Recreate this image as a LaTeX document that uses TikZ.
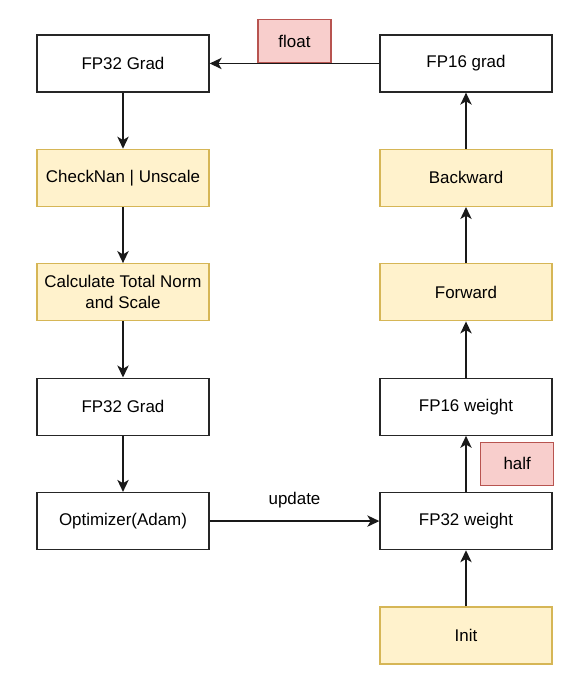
\documentclass[tikz,border=0pt]{standalone}
\usepackage{fontspec}
\setmainfont{Liberation Sans}
\usetikzlibrary{shapes.geometric, arrows.meta}
\definecolor{notefill}{HTML}{FFF2CC}
\definecolor{noteline}{HTML}{D6B656}
\definecolor{castfill}{HTML}{F8CECC}
\definecolor{castline}{HTML}{B85450}
\tikzstyle{plain} = [rectangle, minimum width=129pt, minimum height=42.75pt, text centered, align=center, draw=black!85, fill=white, line width=1pt]
\tikzstyle{stage} = [plain, draw=noteline, fill=notefill]
\tikzstyle{cast} = [rectangle, minimum width=54.75pt, minimum height=32.25pt, text centered, draw=castline, fill=castfill, line width=1pt]
\tikzstyle{edge} = [line width=1.1pt, draw=black!90, ->, >={Stealth[length=9pt, width=8.5pt, inset=2.5pt]}]

\begin{document}
\begin{tikzpicture}[node distance=85.8pt, font=\fontsize{12.7}{15.5}\selectfont]
\useasboundingbox (0,0) rectangle (438.75pt,-514.5pt);

\node (0) [plain] at (92.25pt,-47.6pt) {FP32 Grad};
\node (1) [stage, below of=0] {CheckNan | Unscale};
\node (2) [stage, below of=1] {Calculate Total Norm\\and Scale};
\node (3) [plain, below of=2] {FP32 Grad};
\node (4) [plain, below of=3] {Optimizer(Adam)};
\node (5) [plain, right of=4, node distance=257.25pt] {FP32 weight};
\node (6) [stage, below of=5] {Init};
\node (7) [plain, above of=5] {FP16 weight};
\node (8) [stage, above of=7] {Forward};
\node (9) [stage, above of=8] {Backward};
\node (10) [plain, above of=9] {FP16 grad};

\draw [edge] (0) -- (1);
\draw [edge] (1) -- (2);
\draw [edge] (2) -- (3);
\draw [edge] (3) -- (4);
\draw [edge] (4) -- node[above, yshift=6pt]{update} (5);
\draw [edge] (6) -- (5);
\draw [edge] (5) -- node[cast, anchor=west, xshift=10.5pt]{half} (7);
\draw [edge] (7) -- (8);
\draw [edge] (8) -- (9);
\draw [edge] (9) -- (10);
\draw [edge] (10) -- node[cast, anchor=south]{float} (0);

\end{tikzpicture}
\end{document}
